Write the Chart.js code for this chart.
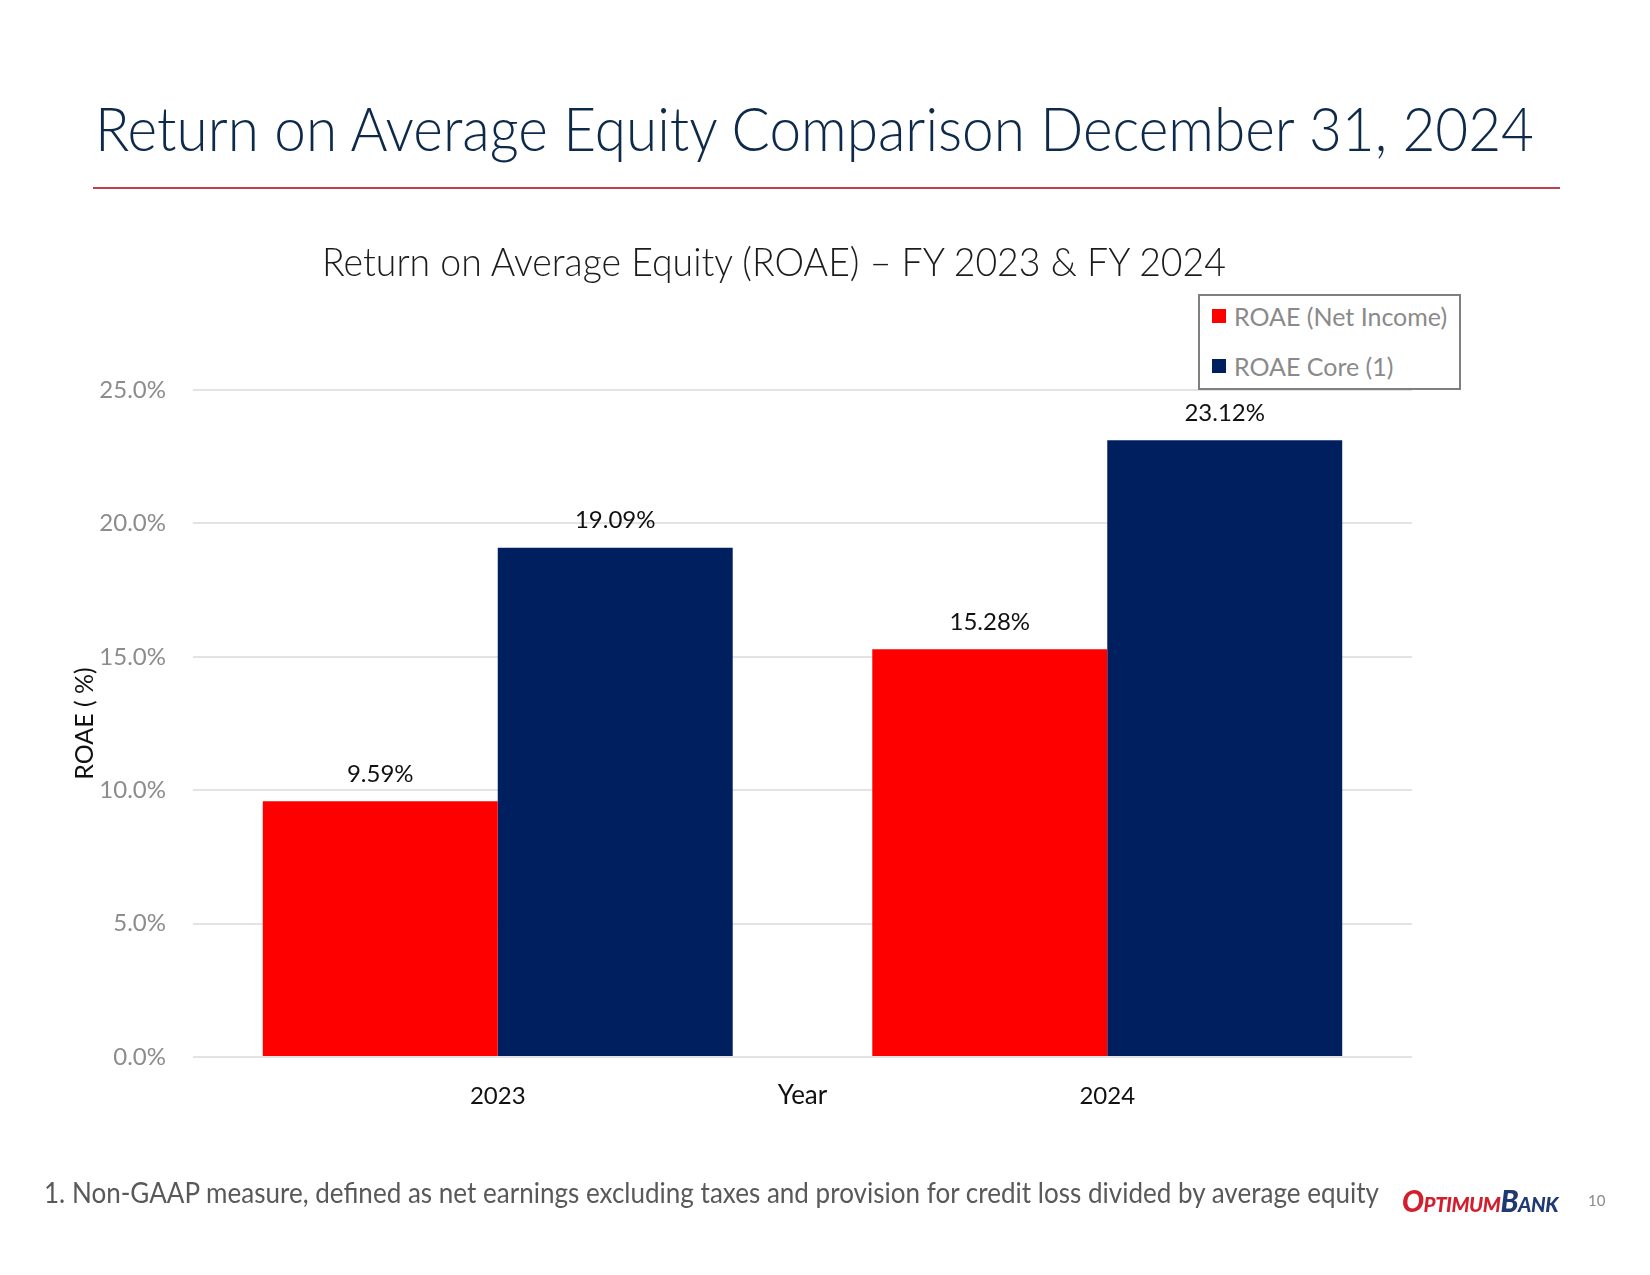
<!DOCTYPE html>
<html>
<head>
<meta charset="utf-8">
<script src="https://cdn.jsdelivr.net/npm/chart.js@4.4.1/dist/chart.umd.min.js"></script>
<style>
  body { margin: 0; background: #fff; font-family: Lato, sans-serif; }
  #page { position: relative; width: 1650px; height: 1275px; overflow: hidden; }
  #page canvas { position: absolute; left: 0; top: 0; }
  .txt { position: absolute; white-space: nowrap; line-height: 1; }
  .fit { display: inline-block; }
  #title { left: 95px; top: 96px; font-size: 62px; font-weight: 300; color: #0e2a4b; }
  #rule { position: absolute; left: 93px; top: 187px; width: 1467px; height: 2px; background: #c0404a; }
  #subtitle { left: 322px; top: 242px; font-size: 39px; font-weight: 300; color: #1c1c1c; }
  #legend { position: absolute; left: 1198px; top: 294px; width: 259px; height: 92px; border: 2px solid #7f7f7f; background: #fff; }
  .item { position: absolute; left: 12px; display: flex; align-items: center; font-size: 25px; color: #8a8a8a; line-height: 1; }
  .item span.box { width: 14px; height: 14px; margin-right: 8px; display: inline-block; }
  #footnote { left: 44px; top: 1178px; font-size: 28px; color: #595959; }
  #logo { left: 1402px; top: 1185px; font-size: 30px; font-weight: 900; font-style: italic; font-variant: small-caps; letter-spacing: -0.5px; }
  #logo .a { color: #d21f2e; }
  #logo .b { color: #1f3a73; }
  #pagenum { left: 1588px; top: 1193px; font-size: 15px; color: #8a8a8a; }
</style>
</head>
<body>
<div id="page">
  <canvas id="roaeChart" width="1650" height="1275"></canvas>
  <div class="txt" id="title"><span class="fit" data-w="1439">Return on Average Equity Comparison December 31, 2024</span></div>
  <div id="rule"></div>
  <div class="txt" id="subtitle"><span class="fit" data-w="904">Return on Average Equity (ROAE) – FY 2023 &amp; FY 2024</span></div>
  <div id="legend"></div>
  <div class="txt" id="footnote"><span class="fit" data-w="1335">1. Non-GAAP measure, defined as net earnings excluding taxes and provision for credit loss divided by average equity</span></div>
  <div class="txt" id="logo"><span class="fit" data-w="156"><span class="a">Optimum</span><span class="b">Bank</span></span></div>
  <div class="txt" id="pagenum">10</div>
</div>
<script>
// chart data
const years = ["2023", "2024"];
const roaeNetIncome = [9.59, 15.28];
const roaeCore = [19.09, 23.12];
const seriesNames = ["ROAE (Net Income)", "ROAE Core (1)"];
const yTicks = [0, 5, 10, 15, 20, 25];

const red = "#ff0000";
const navy = "#001f5f";

// squeeze the slide texts to the width they have on the slide
document.querySelectorAll(".fit").forEach(el => {
    const w = parseFloat(el.dataset.w);
    const real = el.getBoundingClientRect().width;
    el.style.transformOrigin = "left center";
    el.style.transform = "scaleX(" + (w / real) + ")";
});

Chart.defaults.font.family = "Lato, sans-serif";

// value above each bar
const valueLabels = {
    id: "valueLabels",
    afterDatasetsDraw(chart) {
        const ctx = chart.ctx;
        ctx.save();
        ctx.font = "24px Lato, sans-serif";
        ctx.fillStyle = "#111";
        ctx.textAlign = "center";
        ctx.textBaseline = "middle";
        chart.data.datasets.forEach((ds, i) => {
            chart.getDatasetMeta(i).data.forEach((bar, j) => {
                ctx.fillText(ds.data[j].toFixed(2) + "%", bar.x, bar.y - 27);
            });
        });
        ctx.restore();
    }
};

// "Year" sits on the same line as the category labels
const xTitleInline = {
    id: "xTitleInline",
    afterDraw(chart) {
        const ctx = chart.ctx;
        const area = chart.chartArea;
        ctx.save();
        ctx.font = "26px Lato, sans-serif";
        ctx.fillStyle = "#111";
        ctx.textAlign = "center";
        ctx.textBaseline = "middle";
        ctx.fillText("Year", (area.left + area.right) / 2, chart.scales.x.top + 39);
        ctx.restore();
    }
};

const canvasElement = document.getElementById("roaeChart");
const config = {
    type: "bar",
    data: {
        labels: years,
        datasets: [{
            label: seriesNames[0],
            data: roaeNetIncome,
            backgroundColor: red,
            borderWidth: 0
        }, {
            label: seriesNames[1],
            data: roaeCore,
            backgroundColor: navy,
            borderWidth: 0
        }]
    },
    options: {
        responsive: false,
        animation: false,
        devicePixelRatio: 1,
        categoryPercentage: 0.771,
        barPercentage: 1.0,
        layout: {
            padding: { left: 70, right: 238, top: 390, bottom: 138 }
        },
        plugins: {
            legend: { display: false },
            tooltip: { enabled: false }
        },
        scales: {
            x: {
                grid: { display: false },
                border: { display: false },
                ticks: { color: "#111", font: { size: 24 }, padding: 17 },
                afterFit: s => { s.height = 80; }
            },
            y: {
                min: 0,
                max: 25,
                afterBuildTicks: s => { s.ticks = yTicks.map(v => ({ value: v })); },
                grid: { color: "#e3e3e3", lineWidth: 2, drawTicks: false },
                border: { display: false },
                ticks: {
                    color: "#8c8c8c",
                    font: { size: 24 },
                    padding: 27,
                    callback: v => v.toFixed(1) + "%"
                },
                title: {
                    display: true,
                    text: "ROAE ( %)",
                    color: "#111",
                    font: { size: 25 },
                    padding: 0
                },
                afterFit: s => { s.width = 123; }
            }
        }
    },
    plugins: [valueLabels, xTitleInline]
};
const roaeChart = new Chart(canvasElement, config);

// legend box, built from the datasets
const legend = document.getElementById("legend");
roaeChart.data.datasets.forEach((ds, i) => {
    const item = document.createElement("div");
    item.className = "item";
    item.style.top = (8 + i * 50) + "px";
    item.style.height = "24px";
    item.innerHTML = '<span class="box" style="background:' + ds.backgroundColor + '"></span>' + ds.label;
    legend.appendChild(item);
});
</script>
</body>
</html>
